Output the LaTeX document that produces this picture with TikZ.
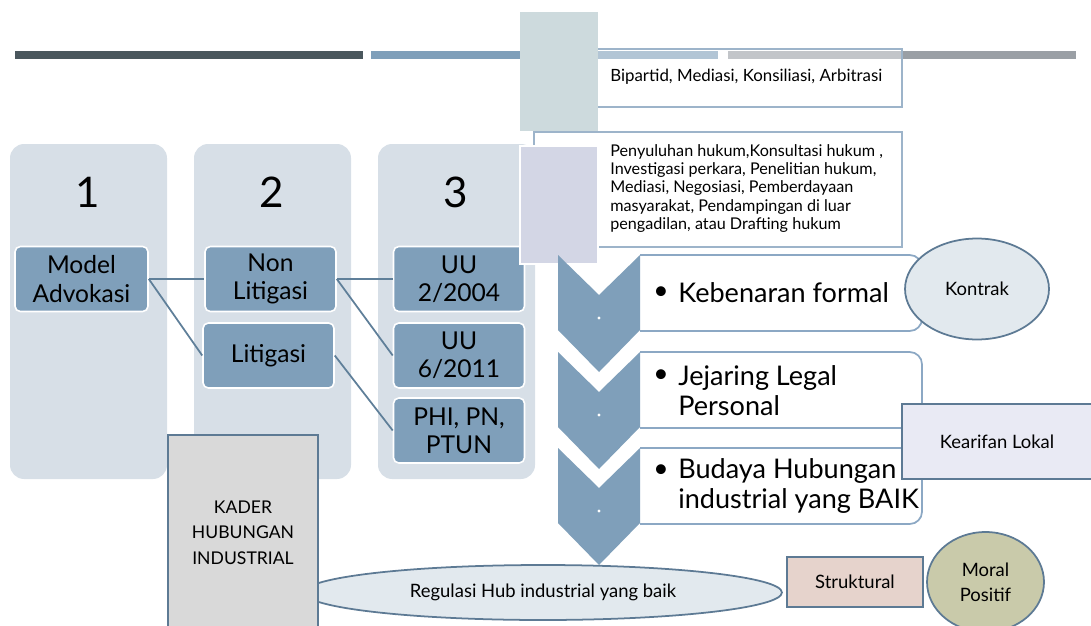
\documentclass[tikz,border=0pt]{standalone}
\usepackage{fontspec}
\setmainfont{Lato}
\usetikzlibrary{shapes.geometric}

\definecolor{bardark}{HTML}{4A575D}
\definecolor{barblue}{HTML}{7F9FBA}
\definecolor{bargrey}{HTML}{9A9FA5}
\definecolor{lineblue}{HTML}{9DB4CA}
\definecolor{greyblock}{HTML}{CDDADD}
\definecolor{purpleblock}{HTML}{D3D6E5}
\definecolor{colfill}{HTML}{D7DFE7}
\definecolor{boxblue}{HTML}{7F9FBA}
\definecolor{linkblue}{HTML}{5F7F99}
\definecolor{tbord}{HTML}{8CA8C4}
\definecolor{ellfill}{HTML}{E2E9EE}
\definecolor{ellborder}{HTML}{5D7A94}
\definecolor{kearfill}{HTML}{E9EAF4}
\definecolor{kaderfill}{HTML}{D9D9D9}
\definecolor{strukfill}{HTML}{E6D3CC}
\definecolor{moralfill}{HTML}{C9CAAA}

\begin{document}
\begin{tikzpicture}[x=0.02cm,y=-0.02cm,
  advbox/.style={fill=boxblue,draw=white,line width=0.9pt,rounded corners=3pt,
    minimum width=2.62cm,minimum height=1.3cm,inner sep=1pt,align=center,
    font=\fontsize{14}{16}\selectfont},
  link/.style={draw=linkblue,line width=1pt},
  ctext/.style={anchor=west,inner sep=0pt,align=left,font=\fontsize{15.4}{17}\selectfont},
  small/.style={font=\fontsize{10.5}{14}\selectfont,align=center}]
  \useasboundingbox (0,0) rectangle (1091,625);

  % Top bar
  \fill[bardark] (15,51) rectangle (363,59);
  \fill[barblue] (371,51) rectangle (718,59);
  \fill[bargrey] (728,51) rectangle (1076,59);

  % Top right boxes
  \filldraw[fill=white,fill opacity=0.4,draw=lineblue,line width=0.7pt] (534,49) rectangle (902,107);
  \node[anchor=west,inner sep=0pt,font=\fontsize{9.6}{11}\selectfont] (bipartid) at (610,77)
    {Bipartid, Mediasi, Konsiliasi, Arbitrasi};
  \fill[greyblock] (520,12) rectangle (598,131);
  \filldraw[fill=white,draw=lineblue,line width=0.7pt] (534,132) rectangle (902,247);
  \node[anchor=west,inner sep=0pt,align=left,font=\fontsize{9.2}{10.4}\selectfont] (penyuluhan) at (610,188.5)
    {Penyuluhan hukum,Konsultasi hukum ,\\Investigasi perkara, Penelitian hukum,\\Mediasi, Negosiasi, Pemberdayaan\\masyarakat, Pendampingan di luar\\pengadilan, atau Drafting hukum};

  % Columns
  \foreach \x in {10,194,378}
    \fill[colfill,rounded corners=8pt] (\x,144) rectangle (\x+157,479);
  \foreach \x/\n in {88/1,272/2,456/3}
    \node[font=\fontsize{24}{28}\selectfont] (num\n) at (\x,192) {\n};

  % Model advokasi
  \node[advbox,minimum width=2.66cm] (model) at (81.5,279) {Model\\Advokasi};
  \node[advbox] (nonlit) at (270.5,279) {Non\\Litigasi};
  \node[advbox] (lit) at (268.5,355.5) {Litigasi};
  \node[advbox] (uu2004) at (459,279) {UU\\2/2004};
  \node[advbox] (uu2011) at (459,355.5) {UU\\6/2011};
  \node[advbox] (phi) at (459,430.5) {PHI, PN,\\PTUN};

  \draw[link] (model.east) -- (nonlit.west);
  \draw[link] (model.east) -- (lit.west);
  \draw[link] (nonlit.east) -- (uu2004.west);
  \draw[link] (nonlit.east) -- (uu2011.west);
  \draw[link] (lit.east) -- (phi.west);

  \filldraw[fill=purpleblock,draw=white,line width=0.8pt] (520,146) rectangle (598,264);

  % Chevrons
  \foreach \t in {255,352,448} {
    \filldraw[fill=white,draw=tbord,line width=1pt,rounded corners=7pt]
      (640,\t) -- (922,\t) -- (922,\t+76) -- (640,\t+76);
    \fill[boxblue] (558,\t) -- (599,\t+40) -- (640,\t) -- (640,\t+75)
      -- (599,\t+117) -- (558,\t+75) -- cycle;
    \fill[white] (599,\t+63) circle (1.6);
  }
  \node at (661,293) {\fontsize{15}{17}\selectfont\textbullet};
  \node[ctext] (kebenaran) at (678,293) {Kebenaran formal};
  \node at (661,376) {\fontsize{15}{17}\selectfont\textbullet};
  \node[ctext] (jejaring) at (678,390.5) {Jejaring Legal\\Personal};
  \node at (661,471) {\fontsize{15}{17}\selectfont\textbullet};
  \node[ctext] (budaya) at (678,486) {Budaya Hubungan\\industrial yang BAIK};

  % Side labels
  \node[small,ellipse,draw=ellborder,fill=ellfill,line width=1pt,inner sep=0pt,
    minimum width=2.88cm,minimum height=2.02cm] (kontrak) at (977,289) {Kontrak};
  \node[small,draw=ellborder,fill=kearfill,line width=1pt,
    minimum width=3.8cm,minimum height=1.5cm] (kearifan) at (997,441.5) {Kearifan Lokal};

  % Bottom
  \node[small,ellipse,draw=ellborder,fill=ellfill,line width=1pt,inner sep=0pt,
    minimum width=9.56cm,minimum height=1.1cm] (regulasi) at (543,592.5) {Regulasi Hub industrial yang baik};
  \node[small,draw=ellborder,fill=kaderfill,line width=1.2pt,
    minimum width=3cm,minimum height=3.9cm,font=\fontsize{10}{14.5}\selectfont] (kader) at (243,532.5)
    {KADER\\HUBUNGAN\\INDUSTRIAL};
  \node[small,draw=ellborder,fill=strukfill,line width=1pt,
    minimum width=2.72cm,minimum height=1cm] (struktural) at (855,582) {Struktural};
  \node[small,ellipse,draw=ellborder,fill=moralfill,line width=1pt,inner sep=0pt,
    minimum width=2.34cm,minimum height=2cm] (moral) at (985.5,582) {Moral\\Positif};
\end{tikzpicture}
\end{document}
